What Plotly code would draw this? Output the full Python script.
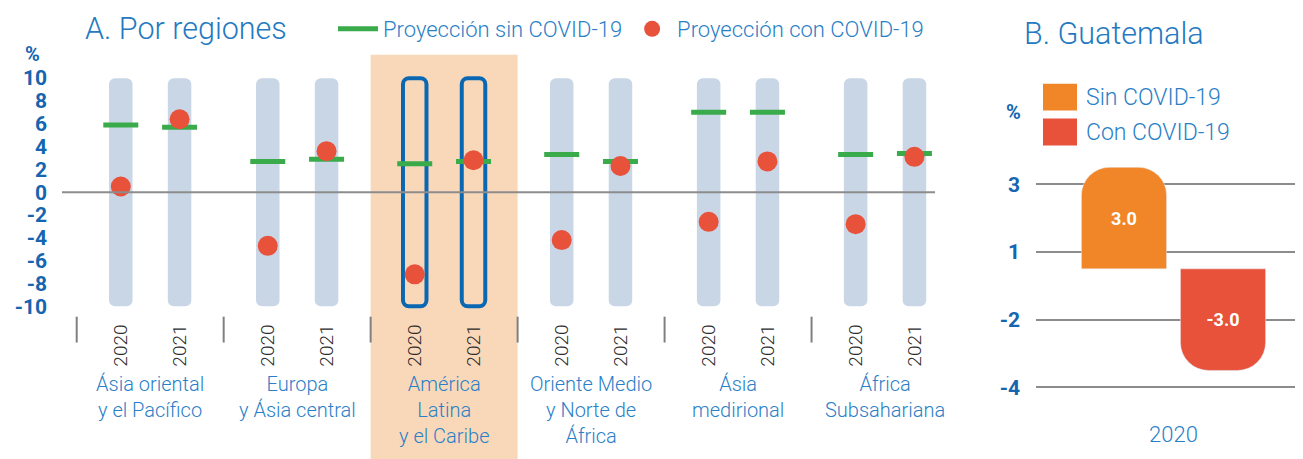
import plotly.graph_objects as go

W, H = 1303, 459
PAGE_PAD = 8  # the page body margin moves the figure 8px right and down

BLUE_TITLE = "#2479c1"
BLUE_TICK = "#1565b0"
BLUE_TEXT = "#2a80c7"
GREEN = "#3aab4b"
RED = "#e8513a"
ORANGE = "#f08628"
BAR_GREY = "#c9d6e6"
OUTLINE = "#0a68b3"
BAND = "#f9d8ba"
GRID = "#8c8c8c"
FONT = "Roboto, Noto Sans, sans-serif"

# --- panel A data ---
REGIONS = [
    "Ásia oriental<br>y el Pacífico",
    "Europa<br>y Ásia central",
    "América<br>Latina<br>y el Caribe",
    "Oriente Medio<br>y Norte de<br>África",
    "Ásia<br>medirional",
    "África<br>Subsahariana",
]
YEARS = ["2020", "2021"]
SIN_COVID = [5.9, 5.7, 2.7, 2.9, 2.5, 2.7, 3.3, 2.7, 7.0, 7.0, 3.3, 3.4]
CON_COVID = [0.5, 6.4, -4.7, 3.6, -7.2, 2.8, -4.2, 2.3, -2.6, 2.7, -2.8, 3.1]
HIGHLIGHT = "América<br>Latina<br>y el Caribe"
Y_TICKS = list(range(10, -11, -2))
Y_MIN, Y_MAX = -10, 10

# --- panel B data ---
GUATE_YEAR = ["2020"]
GUATE_SIN = [3.0]
GUATE_CON = [-3.0]
GUATE_TICKS = [2.5, 0.5, -1.5, -3.5]
GUATE_TICK_TEXT = ["3", "1", "-2", "-4"]


def px_x(p):
    return (p - PAGE_PAD) / W


def px_y(p):
    return 1 - (p - PAGE_PAD) / H


OFFSET = {"2020": -0.2, "2021": 0.2}
xpos = [i + OFFSET[y] for i in range(len(REGIONS)) for y in YEARS]
years_txt = [y for _ in REGIONS for y in YEARS]
hi = REGIONS.index(HIGHLIGHT)
is_hi = [i == hi for i in range(len(REGIONS)) for _ in YEARS]

fig = go.Figure()

# background columns
fig.add_trace(go.Bar(
    x=xpos, y=[Y_MAX - Y_MIN] * len(xpos), base=Y_MIN, width=0.16,
    marker=dict(
        color=["rgba(0,0,0,0)" if h else BAR_GREY for h in is_hi],
        line=dict(color=[OUTLINE if h else BAR_GREY for h in is_hi],
                  width=[4 if h else 0 for h in is_hi]),
        cornerradius=6,
    ),
    showlegend=False, hoverinfo="skip",
))

fig.add_trace(go.Scatter(
    x=xpos, y=SIN_COVID, mode="markers", showlegend=False,
    marker=dict(symbol="line-ew", size=25, line=dict(color=GREEN, width=5)),
    hovertemplate="%{y:.1f}<extra>Sin COVID-19</extra>",
))
fig.add_trace(go.Scatter(
    x=[None], y=[None], mode="lines", name="Proyección sin COVID-19",
    line=dict(color=GREEN, width=5),
))
fig.add_trace(go.Scatter(
    x=xpos, y=CON_COVID, mode="markers", name="Proyección con COVID-19",
    marker=dict(color=RED, size=20),
    hovertemplate="%{y:.1f}<extra>Con COVID-19</extra>",
))

# panel B bars
fig.add_trace(go.Bar(
    x=GUATE_YEAR, y=GUATE_SIN, xaxis="x2", yaxis="y2", name="Sin COVID-19",
    marker=dict(color=ORANGE, cornerradius=28), showlegend=False,
    text=[f"{v:.1f}" for v in GUATE_SIN], textposition="inside",
    insidetextanchor="middle",
    textfont=dict(color="white", size=18, weight="bold"),
))
fig.add_trace(go.Bar(
    x=GUATE_YEAR, y=GUATE_CON, xaxis="x2", yaxis="y2", name="Con COVID-19",
    marker=dict(color=RED, cornerradius=28), showlegend=False,
    text=[f"{v:.1f}" for v in GUATE_CON], textposition="inside",
    insidetextanchor="middle",
    textfont=dict(color="white", size=18, weight="bold"),
))

# highlight band for the Latin America group
fig.add_shape(type="rect", xref="x", yref="paper", x0=hi - 0.5, x1=hi + 0.5,
              y0=0, y1=px_y(53), fillcolor=BAND, line_width=0, layer="below")
# zero line
fig.add_shape(type="line", xref="x domain", yref="y", x0=0, x1=1, y0=0, y1=0,
              line=dict(color=GRID, width=2), layer="above")
# group dividers under the axis
for i in range(len(REGIONS)):
    fig.add_shape(type="line", xref="x", yref="paper", x0=i - 0.5, x1=i - 0.5,
                  y0=px_y(316), y1=px_y(342), line=dict(color="#808080", width=2))

# region labels
for i, name in enumerate(REGIONS):
    fig.add_annotation(x=i, xref="x", y=px_y(370), yref="paper", yanchor="top",
                       text=name, showarrow=False,
                       font=dict(size=20, color=BLUE_TEXT, weight=300))

# titles and unit labels
fig.add_annotation(x=px_x(83), y=px_y(27), xref="paper", yref="paper",
                   xanchor="left", yanchor="middle", text="A. Por regiones",
                   showarrow=False, font=dict(size=30.5, color=BLUE_TITLE, weight=300))
fig.add_annotation(x=px_x(1022), y=px_y(32), xref="paper", yref="paper",
                   xanchor="left", yanchor="middle", text="B. Guatemala",
                   showarrow=False, font=dict(size=30.5, color=BLUE_TITLE, weight=300))
fig.add_annotation(x=px_x(32), y=px_y(52), xref="paper", yref="paper",
                   xanchor="center", yanchor="middle", text="%", showarrow=False,
                   font=dict(size=20, color=BLUE_TICK, weight="bold"))
fig.add_annotation(x=px_x(1013), y=px_y(110), xref="paper", yref="paper",
                   xanchor="center", yanchor="middle", text="%", showarrow=False,
                   font=dict(size=20, color=BLUE_TICK, weight="bold"))

# panel B legend
for label, color, top in [("Sin COVID-19", ORANGE, 82), ("Con COVID-19", RED, 117)]:
    fig.add_shape(type="rect", xref="paper", yref="paper",
                  x0=px_x(1043), x1=px_x(1077), y0=px_y(top + 27), y1=px_y(top),
                  fillcolor=color, line_width=0)
    fig.add_annotation(x=px_x(1084), y=px_y(top + 14), xref="paper", yref="paper",
                       xanchor="left", yanchor="middle", text=label, showarrow=False,
                       font=dict(size=23, color=BLUE_TEXT, weight=300))

fig.update_layout(
    width=W, height=H,
    margin=dict(l=0, r=0, t=0, b=0),
    paper_bgcolor="white", plot_bgcolor="rgba(0,0,0,0)",
    font=dict(family=FONT, color=BLUE_TEXT),
    barmode="group", bargap=0.28, bargroupgap=0.14,
    legend=dict(orientation="h", x=px_x(333), y=px_y(27), xanchor="left",
                yanchor="middle", itemwidth=40,
                font=dict(size=22, color=BLUE_TEXT, weight=300),
                bgcolor="rgba(0,0,0,0)"),
    xaxis=dict(domain=[px_x(62), px_x(935)], range=[-0.6, 5.34],
               tickvals=xpos, ticktext=years_txt, tickangle=-90,
               tickfont=dict(size=19, color="#2b2b2b", weight=300), ticks="",
               showgrid=False, zeroline=False, showline=False,
               ticklabelstandoff=10, automargin=False),
    yaxis=dict(domain=[px_y(309), px_y(73)], range=[-10.3, 10.3],
               tickvals=Y_TICKS, ticktext=[str(v) for v in Y_TICKS],
               tickfont=dict(size=21, color=BLUE_TICK, weight="bold"),
               showgrid=False, zeroline=False, ticks="",
               ticklabelstandoff=14, automargin=False),
    xaxis2=dict(domain=[px_x(1036), 1], anchor="y2", type="category",
                tickfont=dict(size=22, color=BLUE_TEXT, weight=300), ticks="",
                showgrid=False, zeroline=False, showline=False,
                ticklabelstandoff=28, automargin=False),
    yaxis2=dict(domain=[px_y(390.4), px_y(162.6)], anchor="x2",
                range=[-3.6, 3.1], tickvals=GUATE_TICKS, ticktext=GUATE_TICK_TEXT,
                tickfont=dict(size=21, color=BLUE_TICK, weight="bold"),
                showgrid=True, gridcolor=GRID, gridwidth=2, zeroline=False,
                ticks="", ticklabelstandoff=15, automargin=False),
)

fig.write_html("out.html")
